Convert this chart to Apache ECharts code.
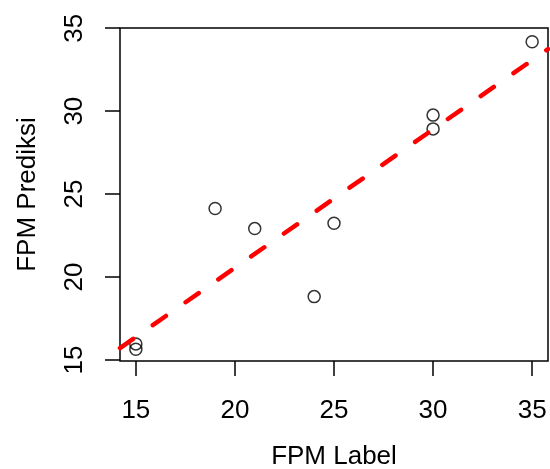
<!DOCTYPE html>
<html>
<head>
<meta charset="utf-8">
<script src="https://cdn.jsdelivr.net/npm/echarts@6/dist/echarts.min.js"></script>
<style>
    html, body { margin: 0; padding: 0; background: #fff; }
    #chart { width: 550px; height: 469px; }
</style>
</head>
<body>
<div id="chart"></div>
<script>
// observed points
var fpmLabel    = [15, 15, 19, 21, 24, 25, 30, 30, 35];
var fpmPrediksi = [15.97, 15.65, 24.13, 22.92, 18.82, 23.24, 29.76, 28.93, 34.18];

// dashed fit line, ends read at the plot edges
var fitX = [14.2, 35.8];
var fitY = [15.72, 33.74];

var xTicks = [15, 20, 25, 30, 35];
var yTicks = [15, 20, 25, 30, 35];

(function () {
    "use strict";

    var myChart = echarts.init(document.getElementById('chart'), null, {renderer: 'canvas'}),
        font = 'Liberation Sans, Arial, sans-serif',
        points = [],
        fit = [],
        i,
        option;

    for (i = 0; i < fpmLabel.length; i++) {
        points.push([fpmLabel[i], fpmPrediksi[i]]);
    }
    for (i = 0; i < fitX.length; i++) {
        fit.push([fitX[i], fitY[i]]);
    }

    option = {
        animation: false,
        backgroundColor: '#fff',
        grid: {
            left: 120,
            right: 2,
            top: 28,
            bottom: 108,
            outerBoundsMode: 'none',
            containLabel: false,
            show: true,
            borderColor: '#000',
            borderWidth: 1.5,
            backgroundColor: 'transparent'
        },
        xAxis: {
            type: 'value',
            min: 14.2,
            max: 35.8,
            name: 'FPM Label',
            nameLocation: 'middle',
            nameGap: 83,
            nameTextStyle: {color: '#000', fontSize: 26, fontFamily: font},
            splitLine: {show: false},
            axisLine: {show: false},
            axisTick: {
                show: true,
                length: 15,
                customValues: xTicks,
                lineStyle: {color: '#000', width: 1.5}
            },
            axisLabel: {
                customValues: xTicks,
                margin: 37,
                color: '#000',
                fontSize: 26,
                fontFamily: font
            }
        },
        yAxis: {
            type: 'value',
            min: 14.94,
            max: 35.01,
            name: 'FPM Prediksi',
            nameLocation: 'middle',
            nameGap: 79,
            nameTextStyle: {color: '#000', fontSize: 26, fontFamily: font},
            splitLine: {show: false},
            axisLine: {show: false},
            axisTick: {
                show: true,
                length: 15,
                customValues: yTicks,
                lineStyle: {color: '#000', width: 1.5}
            },
            axisLabel: {
                customValues: yTicks,
                rotate: 90,
                margin: 32,
                color: '#000',
                fontSize: 26,
                fontFamily: font
            }
        },
        series: [
            {
                type: 'scatter',
                data: points,
                symbol: 'circle',
                symbolSize: 12,
                itemStyle: {
                    color: 'rgba(0,0,0,0)',
                    borderColor: '#000',
                    borderWidth: 1.5
                },
                z: 2
            },
            {
                type: 'line',
                data: fit,
                symbol: 'none',
                clip: true,
                lineStyle: {
                    color: '#ff0000',
                    width: 4.5,
                    type: [16, 24],
                    cap: 'round'
                },
                z: 3
            }
        ]
    };

    myChart.setOption(option);
})();
</script>
</body>
</html>
